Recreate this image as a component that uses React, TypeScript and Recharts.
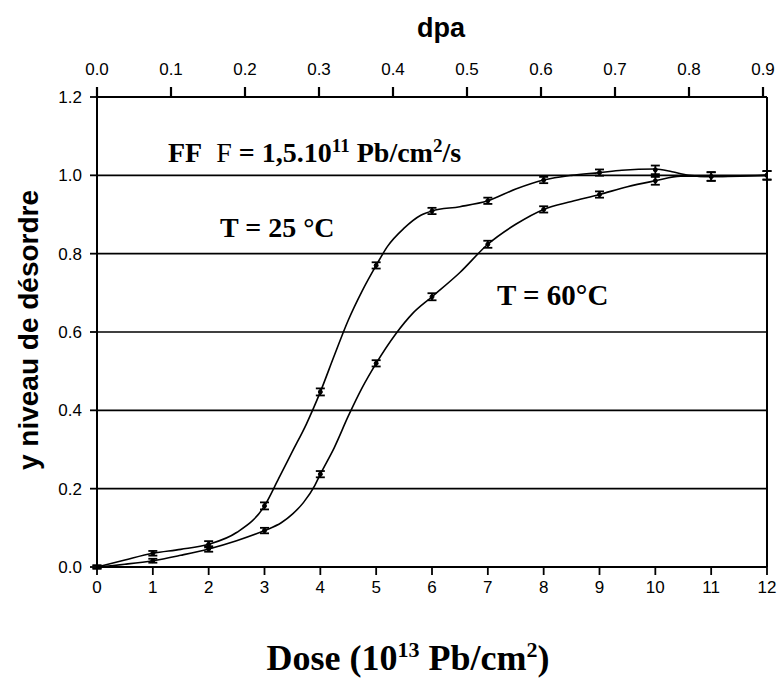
import React from 'react';
import {
  ComposedChart,
  Line,
  XAxis,
  YAxis,
  CartesianGrid,
  ReferenceLine,
  ErrorBar,
  Customized,
} from 'recharts';

// Curve T = 25 °C
const dose25 = [0, 0.5, 1, 1.5, 2, 2.5, 3, 3.25, 3.5, 3.75, 4, 4.25, 4.5, 4.75, 5, 5.2, 5.5, 5.8, 6, 6.5, 7, 7.5, 8, 8.5, 9, 9.4, 10, 10.3, 10.6, 11, 11.5, 12];
const level25 = [0, 0.018, 0.035, 0.045, 0.058, 0.088, 0.156, 0.225, 0.295, 0.365, 0.447, 0.54, 0.63, 0.705, 0.77, 0.818, 0.865, 0.898, 0.909, 0.92, 0.935, 0.965, 0.988, 1.0, 1.007, 1.013, 1.016, 1.009, 1.0, 0.997, 0.999, 1.0];

// Curve T = 60 °C
const dose60 = [0, 0.5, 1, 1.5, 2, 2.5, 3, 3.3, 3.5, 3.7, 3.9, 4, 4.25, 4.5, 4.75, 5, 5.35, 5.65, 6, 6.5, 7, 7.5, 8, 8.5, 9, 9.5, 10, 10.45, 11, 12];
const level60 = [0, 0.007, 0.016, 0.03, 0.046, 0.067, 0.093, 0.113, 0.135, 0.165, 0.208, 0.237, 0.305, 0.385, 0.458, 0.52, 0.595, 0.647, 0.69, 0.752, 0.824, 0.875, 0.913, 0.933, 0.951, 0.971, 0.986, 0.998, 0.997, 1.0];

// Measured points with error bars
const measDose = [0, 1, 2, 3, 4, 5, 6, 7, 8, 9, 10, 11, 12];
const meas25 = [0, 0.035, 0.058, 0.156, 0.447, 0.77, 0.909, 0.935, 0.988, 1.007, 1.014, 0.997, 1.0];
const err25 = [0.004, 0.006, 0.008, 0.009, 0.009, 0.008, 0.008, 0.008, 0.008, 0.008, 0.011, 0.011, 0.011];
const meas60 = [0, 0.016, 0.046, 0.093, 0.237, 0.52, 0.69, 0.824, 0.913, 0.951, 0.986, 0.997, 1.0];
const err60 = [0.004, 0.005, 0.007, 0.007, 0.008, 0.008, 0.009, 0.009, 0.008, 0.008, 0.01, 0.011, 0.011];

const doseTicks = [0, 1, 2, 3, 4, 5, 6, 7, 8, 9, 10, 11, 12];
const dpaTicks = [0, 0.1, 0.2, 0.3, 0.4, 0.5, 0.6, 0.7, 0.8, 0.9];
const dpaMax = 0.9054;
const levelTicks = [0, 0.2, 0.4, 0.6, 0.8, 1.0, 1.2];

const curve25 = dose25.map((d, i) => ({ dose: d, v: level25[i] }));
const curve60 = dose60.map((d, i) => ({ dose: d, v: level60[i] }));
const points25 = measDose.map((d, i) => ({ dose: d, v: meas25[i], e: err25[i] }));
const points60 = measDose.map((d, i) => ({ dose: d, v: meas60[i], e: err60[i] }));
const dpaRange = [{ dpa: 0, v: 0 }, { dpa: dpaMax, v: 0 }];

const SANS = '"Liberation Sans", Arial, sans-serif';
const SERIF = '"Liberation Serif", "Times New Roman", serif';

const tickStyle = { fontFamily: SANS, fontSize: 17, fill: '#000' };
const markerDot = { r: 2, fill: '#000', stroke: '#000', strokeWidth: 1 };

const TOP_TICK_SIZE = 9;
const TOP_TICK_MARGIN = 13;

const TopTick = (props: any) => {
  const { x, y, payload } = props;
  const yAxis = Number(y) + TOP_TICK_MARGIN + TOP_TICK_SIZE;
  return (
    <g>
      <path d={`M${x},${yAxis - TOP_TICK_SIZE - 1}L${x},${yAxis}`} stroke="#000000" strokeWidth={2.2} fill="none" />
      <text x={x} y={y} textAnchor="middle" fontFamily={SANS} fontSize={17} fill="#000">
        {Number(payload.value).toFixed(1)}
      </text>
    </g>
  );
};

const Annotations = () => (
  <g>
    <text x={441} y={37} textAnchor="middle" fontFamily={SANS} fontWeight="bold" fontSize={27} fill="#000">
      dpa
    </text>
    <text
      x={28}
      y={330}
      transform="rotate(-90 28 330)"
      textAnchor="middle"
      dominantBaseline="central"
      fontFamily={SANS}
      fontWeight="bold"
      fontSize={28}
      fill="#000"
    >
      y niveau de désordre
    </text>
    <text x={408} y={670} textAnchor="middle" fontFamily={SERIF} fontWeight="bold" fontSize={36} fill="#000">
      Dose (10<tspan dy={-13} fontSize={22}>13</tspan>
      <tspan dy={13}> Pb/cm</tspan>
      <tspan dy={-13} fontSize={22}>2</tspan>
      <tspan dy={13}>)</tspan>
    </text>
    <text x={168} y={162} fontFamily={SERIF} fontWeight="bold" fontSize={28} fill="#000">
      FF{'\u00a0\u00a0'}
      <tspan fontWeight="normal">F</tspan>
      {' = 1,5.10'}
      <tspan dy={-10} fontSize={19}>11</tspan>
      <tspan dy={10}> Pb/cm</tspan>
      <tspan dy={-10} fontSize={19}>2</tspan>
      <tspan dy={10}>/s</tspan>
    </text>
    <text x={220} y={237} fontFamily={SERIF} fontWeight="bold" fontSize={28} fill="#000">
      T = 25 °C
    </text>
    <text x={497} y={305} fontFamily={SERIF} fontWeight="bold" fontSize={29} fill="#000">
      T = 60°C
    </text>
  </g>
);

export default function App() {
  return (
    <div style={{ position: 'absolute', left: 0, top: 0, width: 780, height: 686, background: '#fff' }}>
      <ComposedChart width={780} height={686} margin={{ top: 0, right: 13, bottom: 0, left: 0 }}>
        <CartesianGrid horizontal vertical={false} stroke="#000" strokeWidth={1.6} />
        <XAxis
          xAxisId="bottom"
          dataKey="dose"
          type="number"
          domain={[0, 12]}
          ticks={doseTicks}
          height={119}
          tickSize={8}
          tickMargin={6}
          tick={tickStyle}
          axisLine={{ stroke: '#000', strokeWidth: 2 }}
          tickLine={{ stroke: '#000', strokeWidth: 1.8 }}
          allowDataOverflow
        />
        <XAxis
          xAxisId="top"
          orientation="top"
          dataKey="dpa"
          type="number"
          domain={[0, dpaMax]}
          ticks={dpaTicks}
          height={97}
          tickSize={TOP_TICK_SIZE}
          tickMargin={TOP_TICK_MARGIN}
          tick={<TopTick />}
          tickLine={false}
          axisLine={{ stroke: '#000', strokeWidth: 2 }}
          allowDataOverflow
        />
        <YAxis
          type="number"
          domain={[0, 1.2]}
          ticks={levelTicks}
          tickFormatter={(v: number) => v.toFixed(1)}
          width={97}
          tickSize={7}
          tickMargin={8}
          tick={tickStyle}
          axisLine={{ stroke: '#000', strokeWidth: 2 }}
          tickLine={{ stroke: '#000', strokeWidth: 1.8 }}
          allowDataOverflow
        />
        <ReferenceLine xAxisId="bottom" x={12} stroke="#000" strokeWidth={2} />
        <Line
          xAxisId="top"
          data={dpaRange}
          dataKey="v"
          stroke="none"
          dot={false}
          activeDot={false}
          isAnimationActive={false}
        />
        <Line
          xAxisId="bottom"
          data={curve25}
          dataKey="v"
          type="monotone"
          stroke="#000"
          strokeWidth={1.6}
          dot={false}
          isAnimationActive={false}
        />
        <Line
          xAxisId="bottom"
          data={curve60}
          dataKey="v"
          type="monotone"
          stroke="#000"
          strokeWidth={1.6}
          dot={false}
          isAnimationActive={false}
        />
        <Line
          xAxisId="bottom"
          data={points25}
          dataKey="v"
          stroke="none"
          dot={markerDot}
          isAnimationActive={false}
        >
          <ErrorBar dataKey="e" direction="y" width={4.5} stroke="#000" strokeWidth={1.8} isAnimationActive={false} />
        </Line>
        <Line
          xAxisId="bottom"
          data={points60}
          dataKey="v"
          stroke="none"
          dot={markerDot}
          isAnimationActive={false}
        >
          <ErrorBar dataKey="e" direction="y" width={4.5} stroke="#000" strokeWidth={1.8} isAnimationActive={false} />
        </Line>
        <Customized component={Annotations} />
      </ComposedChart>
    </div>
  );
}
